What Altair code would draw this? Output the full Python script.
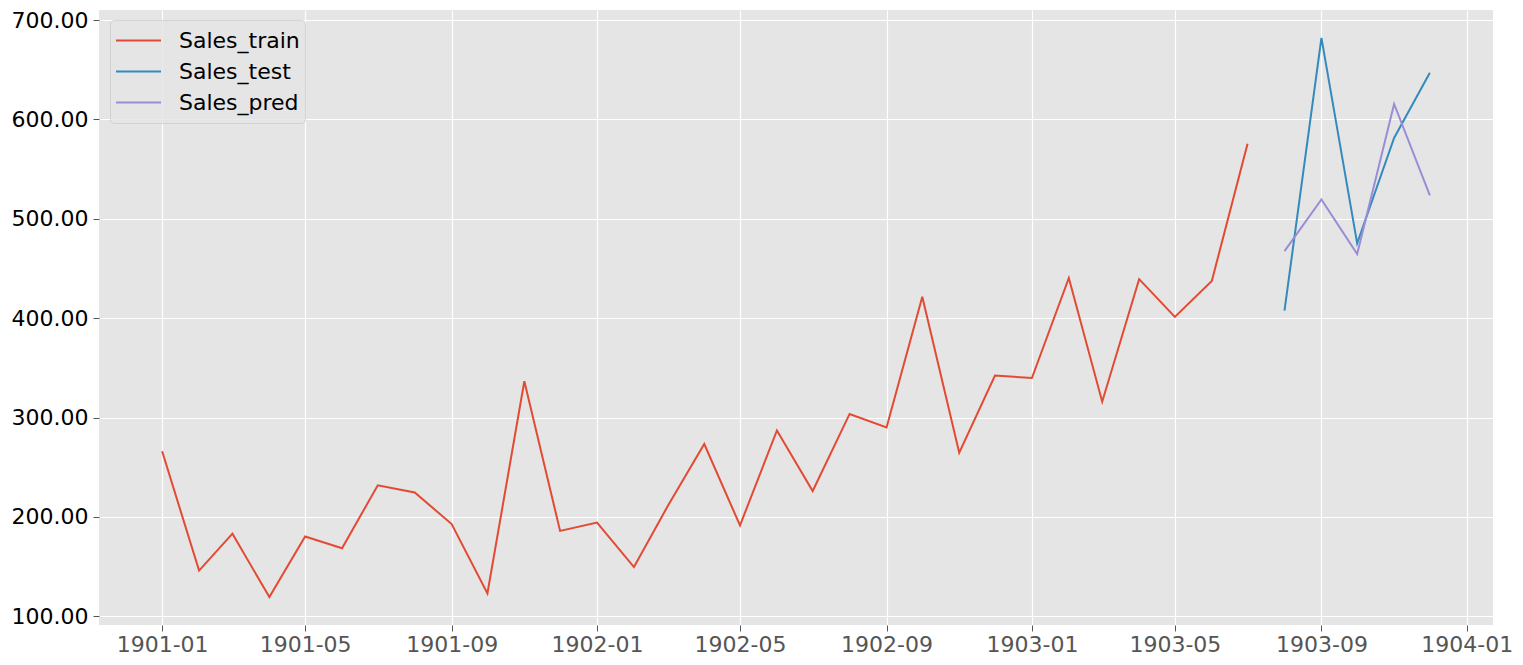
import altair as alt
import pandas as pd

train_dates = ["1901-01-01","1901-02-01","1901-03-01","1901-04-01","1901-05-01","1901-06-01",
               "1901-07-01","1901-08-01","1901-09-01","1901-10-01","1901-11-01","1901-12-01",
               "1902-01-01","1902-02-01","1902-03-01","1902-04-01","1902-05-01","1902-06-01",
               "1902-07-01","1902-08-01","1902-09-01","1902-10-01","1902-11-01","1902-12-01",
               "1903-01-01","1903-02-01","1903-03-01","1903-04-01","1903-05-01","1903-06-01",
               "1903-07-01"]
train_vals = [266.0,145.9,183.1,119.3,180.3,168.5,231.8,224.5,192.8,122.9,336.5,185.9,
              194.3,149.5,210.1,273.3,191.4,287.0,226.0,303.6,289.9,421.6,264.5,342.3,
              339.7,440.4,315.9,439.3,401.3,437.4,575.5]
test_dates = ["1903-08-01","1903-09-01","1903-10-01","1903-11-01","1903-12-01"]
test_vals = [407.6,682.0,475.3,581.3,646.9]
pred_vals = [467.5,519.5,464.5,615.5,523.5]

series_names = ["Sales_train", "Sales_test", "Sales_pred"]
series_colors = ["#E24A33", "#348ABD", "#988ED5"]

rows = []
for d, v in zip(train_dates, train_vals):
    rows.append({"date": d, "value": v, "series": "Sales_train"})
for d, v in zip(test_dates, test_vals):
    rows.append({"date": d, "value": v, "series": "Sales_test"})
for d, v in zip(test_dates, pred_vals):
    rows.append({"date": d, "value": v, "series": "Sales_pred"})
df = pd.DataFrame(rows)

x_ticks = [alt.DateTime(year=y, month=m, date=1, utc=True)
           for y, m in [(1901,1),(1901,5),(1901,9),(1902,1),(1902,5),(1902,9),(1903,1),(1903,5),(1903,9),(1904,1)]]

chart = alt.Chart(df).mark_line(strokeWidth=2).encode(
    x=alt.X("date:T",
            scale=alt.Scale(type="utc",
                            domain=[alt.DateTime(year=1900, month=11, date=9, utc=True),
                                    alt.DateTime(year=1904, month=1, date=23, utc=True)]),
            axis=alt.Axis(title=None, values=x_ticks, format="%Y-%m",
                          labelColor="#555555", labelFontSize=22, labelFont="DejaVu Sans",
                          tickColor="#555555", tickSize=6, gridColor="white", gridWidth=1.2,
                          domain=False, labelPadding=3)),
    y=alt.Y("value:Q",
            scale=alt.Scale(domain=[91.2, 710.1], nice=False, zero=False),
            axis=alt.Axis(title=None, values=[100,200,300,400,500,600,700], format=".2f",
                          labelColor="#000000", labelFontSize=22, labelFont="DejaVu Sans",
                          tickColor="#555555", tickSize=6, gridColor="white", gridWidth=1.2,
                          domain=False, labelPadding=5)),
    color=alt.Color("series:N",
                    scale=alt.Scale(domain=series_names, range=series_colors),
                    legend=alt.Legend(title=None, orient="none", legendX=11, legendY=10,
                                      symbolType="stroke", symbolSize=2025, symbolStrokeWidth=2,
                                      labelFontSize=22, labelFont="DejaVu Sans", labelColor="#000000",
                                      clipHeight=31, rowPadding=0, padding=5, labelOffset=17,
                                      fillColor="rgba(229,229,229,0.8)",
                                      strokeColor="rgba(204,204,204,0.8)", cornerRadius=4)),
    detail="series:N"
).properties(
    width=1394, height=615,
    padding={"left": 99, "top": 10, "right": 30, "bottom": 40},
    autosize="none",
    background="white"
).configure_view(fill="#E5E5E5", stroke=None)

chart.save("out.html", embed_options={"renderer": "svg", "actions": False})
